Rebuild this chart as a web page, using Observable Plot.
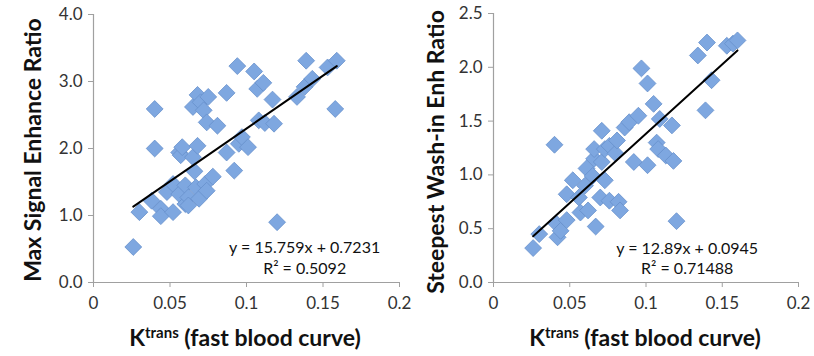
<!DOCTYPE html>
<html><head><meta charset="utf-8">
<script src="https://cdn.jsdelivr.net/npm/d3@7"></script>
<script src="https://cdn.jsdelivr.net/npm/@observablehq/plot@0.6"></script>
<style>
body{margin:0;background:#fff;font-family:Lato,sans-serif}
#wrap{position:relative;width:814px;height:356px;overflow:hidden}
.panel{position:absolute;top:0;width:407px;height:356px}
.ytitle{position:absolute;transform:translate(-50%,-50%) rotate(-90deg);white-space:nowrap;font-weight:bold;font-size:23px;color:#111}
.xtitle{position:absolute;transform:translate(-50%,-50%);white-space:nowrap;font-weight:bold;font-size:23px;color:#111}
.xtitle sup{font-size:15px;vertical-align:8px;line-height:0}
</style></head>
<body><div id="wrap">
<div class="panel" id="p1" style="left:0"></div>
<div class="panel" id="p2" style="left:407px"></div>
<div class="ytitle" style="left:32px;top:150px">Max Signal Enhance Ratio</div>
<div class="ytitle" style="left:435px;top:152px">Steepest Wash-in Enh Ratio</div>
<div class="xtitle" style="left:245px;top:337px">K<sup>trans</sup> (fast blood curve)</div>
<div class="xtitle" style="left:645px;top:337px">K<sup>trans</sup> (fast blood curve)</div>
</div>
<script>
// ---- data ----
const xTicks = [0, 0.05, 0.1, 0.15, 0.2];
const xTickLabels = ["0", "0.05", "0.1", "0.15", "0.2"];
const leftYTicks = [0, 1, 2, 3, 4];
const rightYTicks = [0, 0.5, 1, 1.5, 2, 2.5];

const leftX = [0.026,0.030,0.038,0.040,0.040,0.044,0.044,0.048,0.052,0.052,0.056,0.056,0.057,0.058,0.060,0.060,0.062,0.062,0.065,0.065,0.066,0.067,0.068,0.068,0.069,0.070,0.072,0.073,0.074,0.074,0.075,0.078,0.081,0.087,0.087,0.092,0.094,0.095,0.097,0.101,0.105,0.107,0.108,0.111,0.112,0.117,0.118,0.120,0.133,0.138,0.139,0.143,0.153,0.159,0.158];
const leftY = [0.53,1.05,1.22,2.59,2.00,1.10,0.99,1.35,1.47,1.05,1.32,1.94,1.90,2.02,1.45,1.17,1.27,1.15,2.62,1.87,1.66,1.42,2.80,2.04,1.25,2.69,2.57,1.47,2.39,1.37,2.77,1.58,2.34,2.83,1.94,1.67,3.23,2.07,2.17,2.02,3.15,2.89,2.42,2.98,2.38,2.73,2.37,0.90,2.77,2.92,3.31,3.04,3.21,3.31,2.59];

const rightX = [0.026,0.030,0.040,0.041,0.042,0.044,0.048,0.048,0.052,0.056,0.057,0.060,0.061,0.062,0.065,0.066,0.066,0.067,0.070,0.071,0.071,0.073,0.073,0.076,0.076,0.080,0.081,0.082,0.083,0.086,0.089,0.092,0.095,0.097,0.101,0.101,0.105,0.107,0.108,0.109,0.113,0.117,0.118,0.120,0.134,0.139,0.140,0.143,0.153,0.157,0.160];
const rightY = [0.32,0.45,1.28,0.55,0.42,0.48,0.58,0.82,0.95,0.79,0.65,0.90,1.06,0.67,0.99,1.15,1.24,0.52,0.79,1.12,1.41,1.24,0.95,1.27,0.76,1.20,1.32,0.75,0.67,1.44,1.49,1.12,1.55,1.99,1.85,1.09,1.66,1.30,1.24,1.52,1.18,1.46,1.13,0.57,2.11,1.60,2.23,1.88,2.20,2.22,2.25];

const leftFit = {slope: 15.759, intercept: 0.7231, eq: "y = 15.759x + 0.7231", r2: "R² = 0.5092"};
const rightFit = {slope: 12.89, intercept: 0.0945, eq: "y = 12.89x + 0.0945", r2: "R² = 0.71488"};

// ---- drawing ----
const axisGray = "#a0a0a0";
function panel(xs, ys, fit, yDomain, yTicks, m, eqPos) {
  const pts = xs.map((x, i) => ({x, y: ys[i]}));
  const [x0, x1] = d3.extent(xs);
  const trend = [x0, x1].map(x => ({x, y: fit.slope * x + fit.intercept}));
  return Plot.plot({
    width: 407, height: 356,
    marginLeft: m.left, marginRight: m.right, marginTop: m.top, marginBottom: m.bottom,
    style: {fontFamily: "Lato, sans-serif", fontSize: "17px", background: "transparent", overflow: "visible"},
    x: {domain: [0, 0.2]},
    y: {domain: yDomain},
    marks: [
      Plot.axisX({ticks: xTicks, tickFormat: d => xTickLabels[xTicks.indexOf(d)], tickSize: 5, tickPadding: 9, stroke: axisGray, fill: "#333", label: null}),
      Plot.axisY({ticks: yTicks, tickFormat: d => d.toFixed(1), tickSize: 5, tickPadding: 6, stroke: axisGray, fill: "#333", label: null}),
      Plot.ruleY([yDomain[0]], {stroke: axisGray, strokeWidth: 1.2}),
      Plot.ruleX([0], {stroke: axisGray, strokeWidth: 1.2}),
      Plot.dot(pts, {x: "x", y: "y", symbol: "diamond2", r: 7.6, fill: "#7ea7e0", stroke: "#6790cc", strokeWidth: 0.8}),
      Plot.line(trend, {x: "x", y: "y", stroke: "#000", strokeWidth: 2}),
      Plot.text([fit.eq], {x: eqPos[0], y: eqPos[1], text: d => d, fontSize: 16, fill: "#111"}),
      Plot.text([fit.r2], {x: eqPos[0], y: eqPos[2], text: d => d, fontSize: 16, fill: "#111"})
    ]
  });
}
document.getElementById("p1").append(panel(leftX, leftY, leftFit, [0, 4], leftYTicks, {left: 93, right: 8, top: 14, bottom: 74}, [0.138, 0.51, 0.21]));
document.getElementById("p2").append(panel(rightX, rightY, rightFit, [0, 2.5], rightYTicks, {left: 86, right: 16, top: 13, bottom: 74}, [0.127, 0.316, 0.13]));
</script>
</body></html>
